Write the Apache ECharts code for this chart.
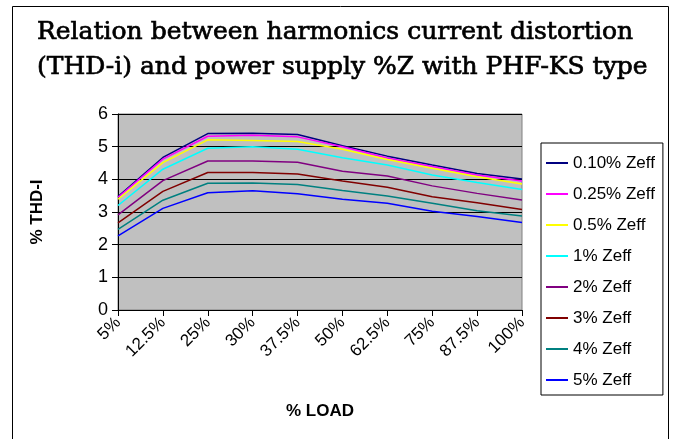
<!DOCTYPE html>
<html><head><meta charset="utf-8">
<script src="https://cdn.jsdelivr.net/npm/echarts@6/dist/echarts.min.js"></script>
<style>html,body{margin:0;padding:0;background:#fff}#c{width:676px;height:439px}</style>
</head><body><div id="c"></div>
<script>
const categories = ['5%','12.5%','25%','30%','37.5%','50%','62.5%','75%','87.5%','100%'];
const seriesNames = ['0.10% Zeff','0.25% Zeff','0.5% Zeff','1% Zeff','2% Zeff','3% Zeff','4% Zeff','5% Zeff'];
const z010 = [3.47,4.67,5.40,5.41,5.37,5.03,4.71,4.44,4.18,4.01];
const z025 = [3.45,4.62,5.32,5.35,5.30,5.00,4.65,4.39,4.13,3.95];
const z05  = [3.39,4.51,5.21,5.19,5.16,4.92,4.61,4.34,4.08,3.86];
const z1   = [3.20,4.31,4.95,5.00,4.92,4.66,4.44,4.13,3.90,3.69];
const z2   = [2.91,3.96,4.56,4.56,4.52,4.25,4.10,3.80,3.57,3.37];
const z3   = [2.67,3.63,4.21,4.21,4.16,3.95,3.76,3.47,3.28,3.08];
const z4   = [2.47,3.36,3.88,3.89,3.84,3.66,3.49,3.27,3.04,2.88];
const z5   = [2.27,3.11,3.59,3.65,3.56,3.39,3.27,3.02,2.86,2.68];
const yTicks = [0,1,2,3,4,5,6];
const seriesData = [z010,z025,z05,z1,z2,z3,z4,z5];
const colors = ['#000080','#FF00FF','#FFFF00','#00FFFF','#800080','#800000','#008080','#0000FF'];

const chart = echarts.init(document.getElementById('c'), null, {renderer:'canvas'});
chart.setOption({
  animation:false,
  color: colors,
  title:{
    text:'Relation between harmonics current distortion\n(THD-i) and power supply %Z with PHF-KS type',
    left:32, top:10,
    textStyle:{fontFamily:'DejaVu Serif', fontSize:25, fontWeight:'normal', color:'#000', lineHeight:35,
      textBorderColor:'#000', textBorderWidth:0.7}
  },
  graphic:[{type:'rect', shape:{x:12.5,y:6.5,width:656,height:450}, style:{fill:'none', stroke:'#000', lineWidth:1}, silent:true, z:-1}],
  legend:{
    orient:'vertical', left:541, top:143,
    padding:[10,8,5,5], itemGap:11, itemWidth:22, itemHeight:2,
    icon:'rect',
    borderColor:'#000', borderWidth:1,
    textStyle:{fontFamily:'Liberation Sans, Arial', fontSize:17, color:'#000', lineHeight:20},
    data: seriesNames
  },
  grid:{left:118, right:154, top:114, bottom:129, show:true, backgroundColor:'#C0C0C0', borderColor:'#808080', borderWidth:1},
  xAxis:{
    type:'category', data:categories, boundaryGap:false,
    name:'% LOAD', nameLocation:'middle', nameGap:93,
    nameTextStyle:{fontFamily:'Liberation Sans, Arial', fontSize:17, fontWeight:'bold', color:'#000'},
    axisLine:{lineStyle:{color:'#000'}},
    axisTick:{show:true, length:6, lineStyle:{color:'#000'}},
    axisLabel:{rotate:45, color:'#000', fontFamily:'Liberation Sans, Arial', fontSize:17, margin:10, interval:0}
  },
  yAxis:{
    type:'value', min:yTicks[0], max:yTicks[yTicks.length-1], interval:1,
    name:'% THD-I', nameLocation:'middle', nameGap:72, nameRotate:90,
    nameTextStyle:{fontFamily:'Liberation Sans, Arial', fontSize:17, fontWeight:'bold', color:'#000'},
    axisLine:{show:true, lineStyle:{color:'#000'}},
    axisTick:{show:true, length:6, lineStyle:{color:'#000'}},
    axisLabel:{color:'#000', fontFamily:'Liberation Sans, Arial', fontSize:18, margin:10},
    splitLine:{show:true, lineStyle:{color:'#000', width:1}}
  },
  series: seriesNames.map((n,i)=>({
    name:n, type:'line', data:seriesData[i], symbol:'none',
    lineStyle:{width:1.5, color:colors[i]}, itemStyle:{color:colors[i]}
  }))
});
</script></body></html>
